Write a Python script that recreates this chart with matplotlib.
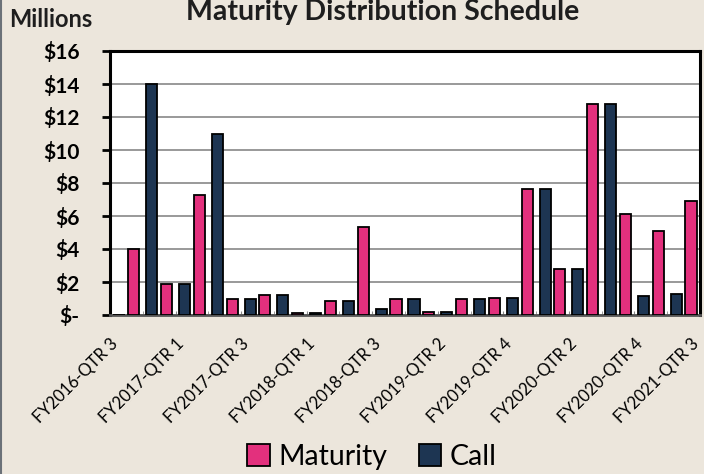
import matplotlib
matplotlib.use('Agg')
import matplotlib.pyplot as plt
import matplotlib.transforms as mtransforms
from matplotlib.lines import Line2D
import numpy as np

quarters = ['FY2016-QTR 3', 'FY2016-QTR 4', 'FY2017-QTR 1', 'FY2017-QTR 2', 'FY2017-QTR 3',
            'FY2017-QTR 4', 'FY2018-QTR 1', 'FY2018-QTR 2', 'FY2018-QTR 3', 'FY2018-QTR 4',
            'FY2019-QTR 2', 'FY2019-QTR 3', 'FY2019-QTR 4', 'FY2020-QTR 1', 'FY2020-QTR 2',
            'FY2020-QTR 3', 'FY2020-QTR 4', 'FY2021-QTR 1', 'FY2021-QTR 3']
maturity = [0, 4.0, 1.85, 7.25, 1.0, 1.2, 0.15, 0.85, 5.35, 0.95,
            0.2, 1.0, 1.05, 7.65, 2.8, 12.8, 6.15, 5.1, 6.9]
call = [0, 14.0, 1.85, 11.0, 1.0, 1.2, 0.15, 0.85, 0.35, 0.95,
        0.2, 1.0, 1.05, 7.65, 2.8, 12.8, 1.15, 1.3, 0]
y_ticks = [0, 2, 4, 6, 8, 10, 12, 14, 16]

pink = '#e3307d'
navy = '#1d3552'
paper = '#ece6dc'

plt.rcParams['font.family'] = ['Lato', 'DejaVu Sans']

fig = plt.figure(figsize=(7.04, 4.74), dpi=100, facecolor=paper)
ax = fig.add_axes([110/704, 1 - 315/474, 590/704, 264/474])
ax.set_facecolor('white')

x = np.arange(len(quarters))
w = 0.34
ax.bar(x - 0.275, maturity, w, color=pink, edgecolor='black', linewidth=1.3, label='Maturity', zorder=3)
ax.bar(x + 0.275, call, w, color=navy, edgecolor='black', linewidth=1.3, label='Call', zorder=3)

ax.set_xlim(0, len(quarters) - 1)
ax.set_ylim(0, 16)
ax.set_yticks(y_ticks)
ax.set_yticklabels(['$-' if v == 0 else f'${v}' for v in y_ticks], fontweight='bold', fontsize=15)
ax.grid(axis='y', color='#7d7d7d', linewidth=1.1, zorder=0)

ax.set_xticks(x[::2])
ax.set_xticklabels(quarters[::2], rotation=45, ha='right', va='top',
                   rotation_mode='anchor', fontsize=12)
ax.set_xticks(x, minor=True)
ax.tick_params(axis='x', which='both', direction='in', length=3, color='#888888', pad=15)
ax.tick_params(axis='y', direction='out', length=6, width=2, color='black', pad=16)

# keep the last rotated label inside the picture
last = ax.get_xticklabels()[-1]
last.set_transform(last.get_transform() + mtransforms.ScaledTranslation(-9/100, 0, fig.dpi_scale_trans))

for side in ['left', 'top', 'right']:
    ax.spines[side].set_linewidth(2.2)
    ax.spines[side].set_color('black')
ax.spines['bottom'].set_linewidth(2)
ax.spines['bottom'].set_color('#555555')

fig.text(383/704, 1 - 20/474, 'Maturity Distribution Schedule', ha='center', va='baseline',
         fontsize=20.5, fontweight='bold', color='#1e1e1e')
fig.text(9/704, 1 - 27/474, 'Millions', ha='left', va='baseline',
         fontsize=17, fontweight='bold', color='#1e1e1e')

fig.legend(loc='center', bbox_to_anchor=(372/704, 1 - 457/474), ncol=2, frameon=False,
           fontsize=20.5, handlelength=0.8, handleheight=0.8, handletextpad=0.3, columnspacing=1.1)

# dark scan edge on the left
fig.add_artist(Line2D([0.001, 0.001], [0, 1], color='#6b7178', linewidth=1.5))

fig.savefig('out.png', dpi=100, facecolor=paper)
